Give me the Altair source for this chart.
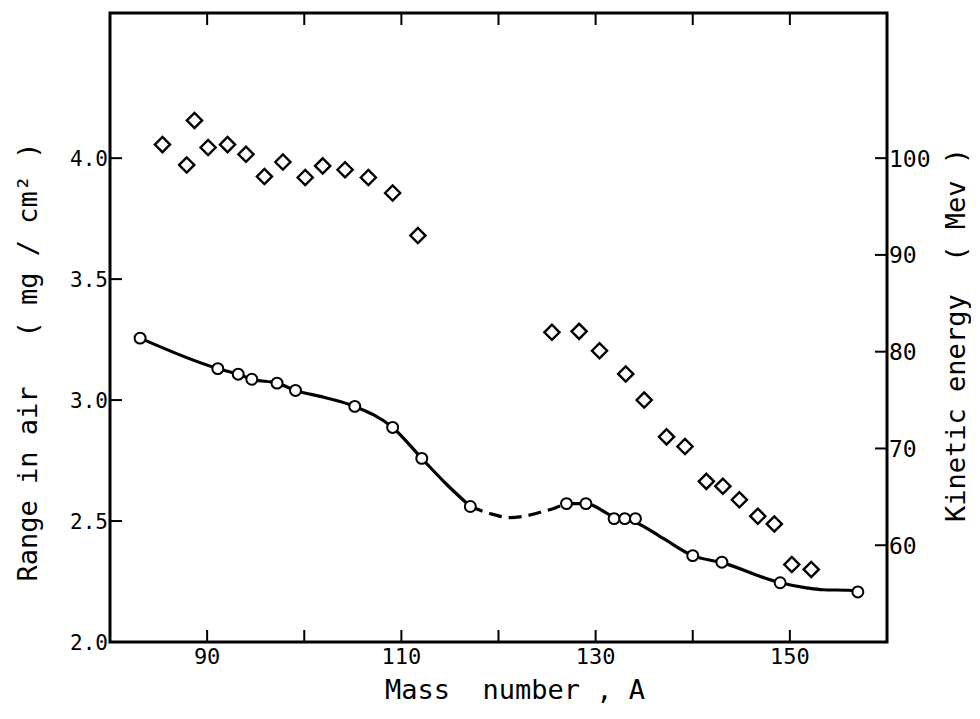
import altair as alt
import pandas as pd

# ---- data ----
mass_circ = [83.1, 91.1, 93.2, 94.6, 97.2, 99.1, 105.2, 109.1, 112.1, 117.1,
             127.0, 129.0, 131.9, 133.0, 134.1, 140.0, 143.0, 149.0, 157.0]
range_circ = [3.256, 3.13, 3.107, 3.086, 3.07, 3.04, 2.974, 2.887, 2.759, 2.56,
              2.572, 2.572, 2.51, 2.51, 2.51, 2.357, 2.33, 2.245, 2.207]

mass_solid1 = [83.1, 91.1, 93.2, 94.6, 97.2, 99.1, 102.0, 105.2, 109.1, 112.1, 114.7, 117.1]
range_solid1 = [3.256, 3.13, 3.107, 3.086, 3.07, 3.04, 3.012, 2.974, 2.887, 2.759, 2.65, 2.56]

mass_dash = [117.1, 119.1, 121.2, 122.9, 124.2, 125.6, 127.0]
range_dash = [2.56, 2.531, 2.514, 2.522, 2.535, 2.551, 2.572]

mass_solid2 = [127.0, 129.0, 131.9, 133.0, 134.1, 137.0, 140.0, 143.0, 149.0, 151.7, 153.4, 156.1, 157.0]
range_solid2 = [2.572, 2.572, 2.518, 2.507, 2.494, 2.427, 2.357, 2.328, 2.245, 2.224, 2.216, 2.214, 2.207]

mass_diam = [85.4, 87.9, 88.7, 90.1, 92.1, 94.0, 95.9, 97.8, 100.1, 101.9, 104.2, 106.6, 109.1, 111.7,
             125.5, 128.3, 130.4, 133.1, 135.0, 137.3, 139.2, 141.4, 143.1, 144.8, 146.7, 148.4, 150.2, 152.2]
energy_diam = [101.4, 99.3, 103.9, 101.1, 101.4, 100.4, 98.1, 99.6, 98.0, 99.2, 98.8, 98.0, 96.4, 92.0,
               82.0, 82.1, 80.1, 77.7, 75.0, 71.2, 70.2, 66.6, 66.1, 64.7, 63.0, 62.2, 58.0, 57.5]

x_ticks = [90, 100, 110, 120, 130, 140, 150]
x_labels = [90, 110, 130, 150]
range_ticks = [2.0, 2.5, 3.0, 3.5, 4.0]
energy_ticks = [60, 70, 80, 90, 100]

NB = "\u00a0"
x_title = f"Mass{NB} number , A"
left_title = f"Range in air{NB}{NB}{NB}( mg / cm² )"
right_title = f"Kinetic energy{NB}{NB}( Mev )"

W, H = 777, 629
FONT = "DejaVu Sans Mono"
TICK_LEN = 12

df_c = pd.DataFrame({"A": mass_circ, "R": range_circ})
df_s1 = pd.DataFrame({"A": mass_solid1, "R": range_solid1})
df_d = pd.DataFrame({"A": mass_dash, "R": range_dash})
df_s2 = pd.DataFrame({"A": mass_solid2, "R": range_solid2})
df_e = pd.DataFrame({"A": mass_diam, "E": energy_diam})
df_xt = pd.DataFrame({"A": x_ticks})
df_xl = pd.DataFrame({"A": x_labels, "lab": [str(v) for v in x_labels]})
df_rt = pd.DataFrame({"R": range_ticks, "lab": [f"{v:.1f}" for v in range_ticks]})
df_et = pd.DataFrame({"E": energy_ticks, "lab": [str(v) for v in energy_ticks]})

xs = alt.Scale(domain=[80, 160], nice=False, zero=False)
ys_l = alt.Scale(domain=[2.0, 4.6], nice=False, zero=False)
ys_r = alt.Scale(domain=[50, 115], nice=False, zero=False)

X = alt.X("A:Q", scale=xs, axis=None)
YL = alt.Y("R:Q", scale=ys_l, axis=None)
YR = alt.Y("E:Q", scale=ys_r, axis=None)

line_kw = dict(color="black", strokeWidth=3.2, interpolate="monotone")

solid1 = alt.Chart(df_s1).mark_line(**line_kw).encode(x=X, y=YL)
dashed = alt.Chart(df_d).mark_line(strokeDash=[13, 7], **line_kw).encode(x=X, y=YL)
solid2 = alt.Chart(df_s2).mark_line(**line_kw).encode(x=X, y=YL)
circles = alt.Chart(df_c).mark_point(shape="circle", size=120, fill="white", fillOpacity=1,
                                     stroke="black", strokeWidth=2, opacity=1).encode(x=X, y=YL)
xt_bottom = alt.Chart(df_xt).mark_rule(color="black", strokeWidth=2).encode(
    x=X, y=alt.value(H), y2=alt.value(H - TICK_LEN))
xt_top = alt.Chart(df_xt).mark_rule(color="black", strokeWidth=2).encode(
    x=X, y=alt.value(0), y2=alt.value(TICK_LEN))
lt = alt.Chart(df_rt).mark_rule(color="black", strokeWidth=2).encode(
    y=YL, x=alt.value(0), x2=alt.value(TICK_LEN))

x_lab = alt.Chart(df_xl).mark_text(align="center", baseline="alphabetic", font=FONT,
                                   fontSize=22, color="black").encode(
    x=X, y=alt.value(H + 22), text="lab:N")
l_lab = alt.Chart(df_rt).mark_text(align="right", baseline="alphabetic", dy=7.5, font=FONT,
                                   fontSize=21, color="black").encode(
    y=YL, x=alt.value(-2), text="lab:N")

ttl_kw = dict(font=FONT, fontSize=27, color="black", align="center", baseline="alphabetic")
x_ttl = alt.Chart(pd.DataFrame({"t": [x_title]})).mark_text(**ttl_kw).encode(
    x=alt.value(405), y=alt.value(H + 57), text="t:N")
l_ttl = alt.Chart(pd.DataFrame({"t": [left_title]})).mark_text(angle=270, **ttl_kw).encode(
    x=alt.value(-73), y=alt.value(349), text="t:N")
r_ttl = alt.Chart(pd.DataFrame({"t": [right_title]})).mark_text(angle=270, **ttl_kw).encode(
    x=alt.value(W + 78), y=alt.value(322), text="t:N")

left_group = alt.layer(solid1, dashed, solid2, circles, xt_bottom, xt_top, lt,
                       x_lab, l_lab, x_ttl, l_ttl, r_ttl)

diamonds = alt.Chart(df_e).mark_point(shape="diamond", size=230, filled=False,
                                      stroke="black", strokeWidth=2.4, opacity=1).encode(x=X, y=YR)
rt = alt.Chart(df_et).mark_rule(color="black", strokeWidth=2).encode(
    y=YR, x=alt.value(W - TICK_LEN), x2=alt.value(W))
r_lab = alt.Chart(df_et).mark_text(align="left", baseline="alphabetic", dy=8.5, font=FONT,
                                   fontSize=23, color="black").encode(
    y=YR, x=alt.value(W + 2), text="lab:N")

right_group = alt.layer(diamonds, rt, r_lab)

chart = alt.layer(left_group, right_group).resolve_scale(y="independent").properties(
    width=W, height=H,
    padding={"left": 102, "top": 5, "right": 84, "bottom": 65},
    autosize=alt.AutoSizeParams(type="none"),
    background="white",
).configure_view(
    stroke="black", strokeWidth=3
)

chart.save("out.html", embed_options={"renderer": "svg", "actions": False})
